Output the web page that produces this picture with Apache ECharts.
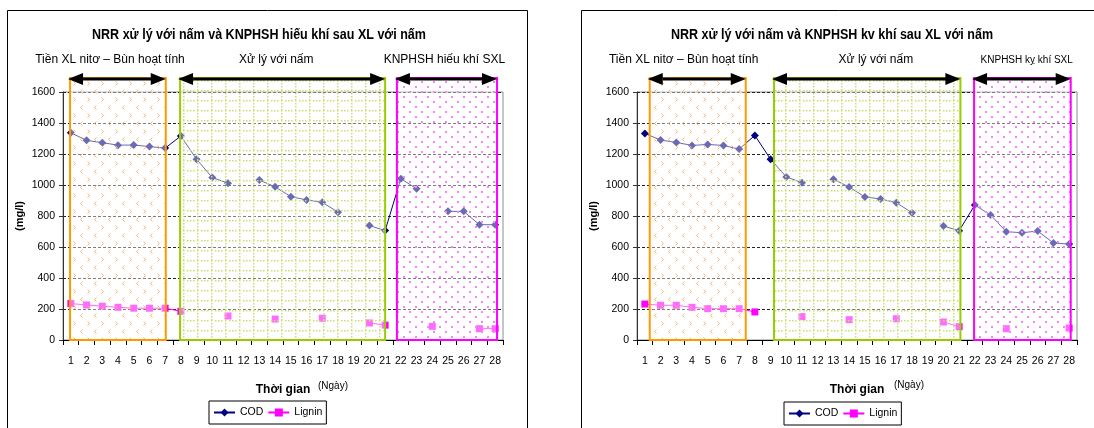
<!DOCTYPE html>
<html>
<head>
<meta charset="utf-8">
<script src="https://cdn.jsdelivr.net/npm/echarts@6/dist/echarts.min.js"></script>
<style>
  html, body { margin: 0; padding: 0; background: #fff; }
  #chart { width: 1094px; height: 428px; }
</style>
</head>
<body>
<div id="chart"></div>
<script>
// ---- data ----------------------------------------------------------------
const days = ['1','2','3','4','5','6','7','8','9','10','11','12','13','14',
              '15','16','17','18','19','20','21','22','23','24','25','26','27','28'];

// aerobic post-treatment run (left panel), mg/l
const aerobicCOD = [1337, 1288, 1273, 1257, 1258, 1248, 1238, 1316, 1166, 1048, 1012, null, 1032, 988,
                    925, 904, 888, 825, null, 738, 706, 1041, 976, null, 830, 830, 744, 744];
const aerobicLignin = [235, 226, 218, 211, 205, 205, 205, 185, null, null, 155, null, null, 135,
                       null, null, 140, null, null, 110, 96, null, null, 88, null, null, 73, 73];

// anaerobic post-treatment run (right panel), mg/l
const anaerobicCOD = [1333, 1290, 1275, 1255, 1262, 1255, 1232, 1320, 1166, 1052, 1015, null, 1037, 987,
                      923, 910, 886, 821, null, 735, 705, 871, 806, 699, 692, 703, 626, 619];
const anaerobicLignin = [232, 224, 224, 211, 202, 202, 202, 181, null, null, 151, null, null, 131,
                         null, null, 137, null, null, 116, 86, null, null, 73, null, null, null, 77];

// treatment phases, spans in day units
const aerobicPhases = [
  { kind: 'pre',    from: 0.95, to: 7.04,  labelAt: 3.49, label: 'Tiền XL nitơ – Bùn hoạt tính' },
  { kind: 'fungi',  from: 7.95, to: 21.0,  labelAt: 14.07, label: 'Xử lý với nấm' },
  { kind: 'post',   from: 21.75, to: 28.12, labelAt: 24.77, label: 'KNPHSH hiếu khí SXL' }
];
const anaerobicPhases = [
  { kind: 'pre',    from: 1.31, to: 7.42,  labelAt: 3.47, label: 'Tiền XL nitơ – Bùn hoạt tính' },
  { kind: 'fungi',  from: 9.22, to: 21.08, labelAt: 15.7, label: 'Xử lý với nấm' },
  { kind: 'post',   from: 21.95, to: 28.1, labelAt: 25.3, label: 'KNPHSH kỵ khí SXL', small: true }
];

const titles = [
  'NRR xử lý với nấm và KNPHSH hiếu khí sau XL với nấm',
  'NRR xử lý với nấm và KNPHSH kv khí sau XL với nấm'
];

// ---- styling ---------------------------------------------------------------
const SANS = '"Liberation Sans", Arial, sans-serif';
const BOX_TOP = 1690;      // phase boxes rise a little above the plot
const ARROW_LEVEL = 1684;

function makePattern(kind) {
  const c = document.createElement('canvas');
  const g = c.getContext('2d');
  if (kind === 'pre') {
    c.width = 14; c.height = 16;
    g.strokeStyle = '#FFB463'; g.lineWidth = 1;
    g.beginPath();
    g.moveTo(3.5, 1.5); g.lineTo(5.5, 3.5); g.lineTo(3.5, 5.5);
    g.moveTo(12.5, 9.5); g.lineTo(10.5, 11.5); g.lineTo(12.5, 13.5);
    g.stroke();
  } else if (kind === 'fungi') {
    c.width = 14; c.height = 10;
    g.fillStyle = '#C8E070';
    for (let y = 0; y < 10; y += 3) g.fillRect(1, y, 1.5, 1.5);
    for (let x = 5; x < 14; x += 3) g.fillRect(x, 0, 1.5, 1.5);
  } else {
    c.width = 12; c.height = 10;
    g.fillStyle = '#FF80FF';
    g.fillRect(1, 1, 2, 2);
    g.fillRect(7, 6, 2, 2);
  }
  return { image: c, repeat: 'repeat' };
}

const PHASE_STYLE = {
  pre:   { stroke: '#FF9900', pattern: makePattern('pre') },
  fungi: { stroke: '#99CC00', pattern: makePattern('fungi') },
  post:  { stroke: '#FF00FF', pattern: makePattern('post') }
};

function phaseRenderer(list) {
  return function (params, api) {
    const ph = list[params.dataIndex];
    const st = PHASE_STYLE[ph.kind];
    const pb = api.coord([api.value(0), 0]);
    const pt = api.coord([api.value(1), BOX_TOP]);
    const x0 = pb[0], x1 = pt[0], yb = pb[1], yt = pt[1];
    const ya = api.coord([0, ARROW_LEVEL])[1];
    const lx = api.coord([ph.labelAt, 0])[0];
    const rect = { x: x0, y: yt, width: x1 - x0, height: yb - yt };
    const head = 15, half = 6;
    return {
      type: 'group',
      children: [
        { type: 'rect', shape: rect, style: { fill: 'rgba(255,255,255,0.42)' } },
        { type: 'rect', shape: rect, style: { fill: st.pattern } },
        { type: 'rect', shape: rect, style: { fill: 'none', stroke: st.stroke, lineWidth: 2 } },
        { type: 'line', shape: { x1: x0 + head - 2, y1: ya, x2: x1 - head + 2, y2: ya },
          style: { stroke: '#000', lineWidth: 3 } },
        { type: 'polygon', shape: { points: [[x0 - 2, ya], [x0 - 2 + head, ya - half], [x0 - 2 + head, ya + half]] },
          style: { fill: '#000' } },
        { type: 'polygon', shape: { points: [[x1, ya], [x1 - head, ya - half], [x1 - head, ya + half]] },
          style: { fill: '#000' } },
        { type: 'text', x: lx, y: ya - 19,
          style: { text: ph.label, fill: '#000', align: 'center', verticalAlign: 'middle',
                   font: (ph.small ? '10px ' : '12px ') + SANS } }
      ]
    };
  };
}

// ---- layout: two panels side by side ---------------------------------------
const grids = [
  { left: 63, top: 92, width: 440, height: 248 },
  { left: 637, top: 92, width: 440, height: 248 }
];

function categoryAxis(i) {
  return {
    type: 'category', gridIndex: i, data: days, boundaryGap: true,
    axisLine: { lineStyle: { color: '#000', width: 1 } },
    axisTick: { show: true, length: 5, lineStyle: { color: '#000' } },
    axisLabel: { color: '#000', fontSize: 10.5, fontFamily: SANS, margin: 16, interval: 0 },
    splitLine: { show: false },
    name: 'Thời gian', nameLocation: 'middle', nameGap: 44,
    nameTextStyle: { color: '#000', fontWeight: 'bold', fontSize: 12, fontFamily: SANS }
  };
}
function spanAxis(i) {
  return { type: 'value', gridIndex: i, min: 0.5, max: 28.5, show: false };
}
function valueAxis(i) {
  return {
    type: 'value', gridIndex: i, min: 0, max: 1600, interval: 200,
    axisLine: { show: true, lineStyle: { color: '#333' } },
    axisTick: { show: true, length: 4, lineStyle: { color: '#333' } },
    axisLabel: { color: '#000', fontSize: 10.5, fontFamily: SANS, margin: 8, formatter: v => String(v) },
    splitLine: { show: true, lineStyle: { color: '#222', width: 1, type: [3, 2] } },
    name: '(mg/l)', nameLocation: 'middle', nameRotate: 90, nameGap: 38,
    nameTextStyle: { color: '#000', fontWeight: 'bold', fontSize: 11, fontFamily: SANS }
  };
}

function lineSeries(name, data, axisIdx, color, symbol, size) {
  return {
    type: 'line', name, data,
    xAxisIndex: axisIdx * 2, yAxisIndex: axisIdx,
    symbol, symbolSize: size, showSymbol: true, showAllSymbol: true,
    connectNulls: false,
    itemStyle: { color },
    lineStyle: { color, width: 1 },
    emphasis: { disabled: true },
    z: 2
  };
}

function phaseSeries(list, axisIdx) {
  return {
    type: 'custom', name: 'phases' + axisIdx,
    xAxisIndex: axisIdx * 2 + 1, yAxisIndex: axisIdx,
    data: list.map(p => [p.from, p.to, BOX_TOP]),
    encode: { x: [0, 1], y: 2 },
    renderItem: phaseRenderer(list),
    clip: false, silent: true, z: 4
  };
}

function legendAt(left, top) {
  return {
    left, top, data: ['COD', 'Lignin'], selectedMode: false,
    itemWidth: 21, itemHeight: 10, itemGap: 4, padding: [6, 4],
    borderColor: '#000', borderWidth: 1,
    textStyle: { color: '#000', fontSize: 10.5, fontFamily: SANS }
  };
}

function condensedText(x, y, text, font) {
  return { type: 'text', x, y, scaleX: 0.895,
           style: { text, fill: '#000', align: 'center', verticalAlign: 'middle', font } };
}

const chart = echarts.init(document.getElementById('chart'), null, { renderer: 'canvas' });
chart.setOption({
  animation: false,
  backgroundColor: '#fff',
  grid: grids.map(g => Object.assign({ show: true, borderColor: '#8c8c8c', borderWidth: 1, backgroundColor: 'transparent' }, g)),
  xAxis: [categoryAxis(0), spanAxis(0), categoryAxis(1), spanAxis(1)],
  yAxis: [valueAxis(0), valueAxis(1)],
  legend: [legendAt(209, 401), legendAt(784, 402)],
  series: [
    lineSeries('COD', aerobicCOD, 0, '#000080', 'diamond', 8),
    lineSeries('Lignin', aerobicLignin, 0, '#FF00FF', 'rect', 7),
    lineSeries('COD', anaerobicCOD, 1, '#000080', 'diamond', 8),
    lineSeries('Lignin', anaerobicLignin, 1, '#FF00FF', 'rect', 7),
    phaseSeries(aerobicPhases, 0),
    phaseSeries(anaerobicPhases, 1)
  ],
  graphic: [
    { type: 'rect', shape: { x: 7.5, y: 10.5, width: 520, height: 440 }, style: { fill: 'none', stroke: '#000', lineWidth: 1 } },
    { type: 'rect', shape: { x: 581.5, y: 10.5, width: 520, height: 440 }, style: { fill: 'none', stroke: '#000', lineWidth: 1 } },
    condensedText(259, 35, titles[0], 'bold 14px ' + SANS),
    condensedText(832, 35, titles[1], 'bold 14px ' + SANS),
    { type: 'text', x: 333, y: 386, style: { text: '(Ngày)', fill: '#000', align: 'center', verticalAlign: 'middle', font: '10px ' + SANS } },
    { type: 'text', x: 909, y: 385, style: { text: '(Ngày)', fill: '#000', align: 'center', verticalAlign: 'middle', font: '10px ' + SANS } }
  ]
});
</script>
</body>
</html>
